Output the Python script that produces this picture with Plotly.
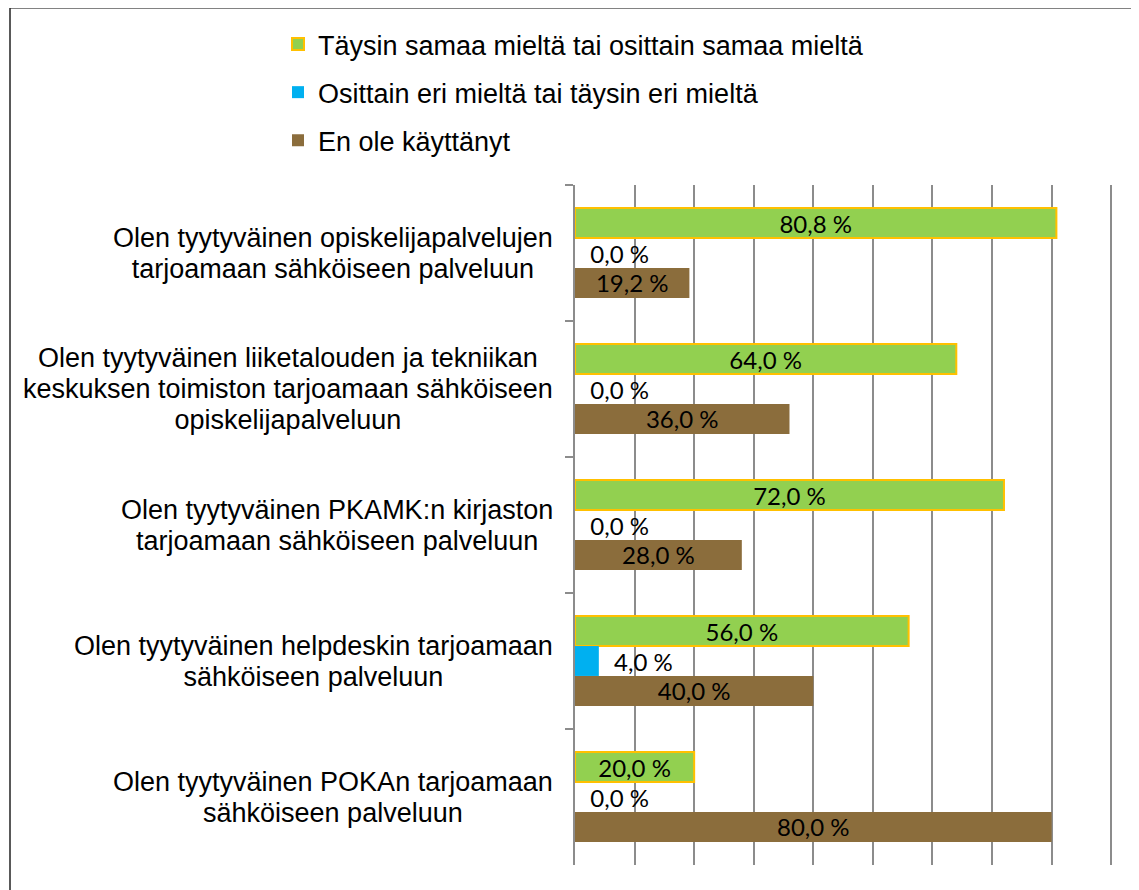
import plotly.graph_objects as go

categories = [
    "Olen tyytyväinen opiskelijapalvelujen<br>tarjoamaan sähköiseen palveluun",
    "Olen tyytyväinen liiketalouden ja tekniikan<br>keskuksen toimiston tarjoamaan sähköiseen<br>opiskelijapalveluun",
    "Olen tyytyväinen PKAMK:n kirjaston<br>tarjoamaan sähköiseen palveluun",
    "Olen tyytyväinen helpdeskin tarjoamaan<br>sähköiseen palveluun",
    "Olen tyytyväinen POKAn tarjoamaan<br>sähköiseen palveluun",
]
series_names = [
    "Täysin samaa mieltä tai osittain samaa mieltä",
    "Osittain eri mieltä tai täysin eri mieltä",
    "En ole käyttänyt",
]
agree = [80.8, 64.0, 72.0, 56.0, 20.0]
disagree = [0.0, 0.0, 0.0, 4.0, 0.0]
not_used = [19.2, 36.0, 28.0, 40.0, 80.0]

colors = ["#92D050", "#00B0F0", "#8B6D3C"]
line_colors = ["#FFC000", "#00B0F0", "#8B6D3C"]
line_widths = [2, 0, 0]

# page has an 8px body margin, so the figure is sized/offset accordingly
OFF = 8
W, H = 1139 - OFF, 890 - OFF
L, R, T, B = 575 - OFF, 26, 185 - OFF, 25
FONT = "Liberation Sans, Arial"
NB = "\u00a0\u00a0"

fig = go.Figure()
for i, (name, vals) in enumerate(zip(series_names, [agree, disagree, not_used])):
    pos = ["inside" if v >= 10 else "outside" for v in vals]
    txt = [(NB if p == "outside" else "") + f"{v:.1f} %".replace(".", ",") for v, p in zip(vals, pos)]
    fig.add_trace(go.Bar(
        y=categories, x=vals, orientation="h", name=name,
        marker=dict(color=colors[i], line=dict(color=line_colors[i], width=line_widths[i])),
        text=txt, textposition=pos, insidetextanchor="middle",
        textfont=dict(family="Lato", size=24, color="black"),
        insidetextfont=dict(family="Lato", size=24, color="black"),
        outsidetextfont=dict(family="Lato", size=24, color="black"),
        constraintext="none", cliponaxis=False,
        legendgroup=f"g{i}",
        hoverinfo="skip",
    ))

for c in categories:
    fig.add_annotation(
        x=0, y=c, xref="x", yref="y",
        text="<br>".join(f'<span style="font-size:27px">{ln}</span>' for ln in c.split("<br>")),
        showarrow=False,
        xanchor="right", yanchor="middle", align="center", xshift=-20,
        font=dict(family=FONT, size=24, color="black"),
    )

ptop = (H - B - (8 - OFF)) / (H - T - B)
pleft = ((10 - OFF) - L) / (W - L - R)
fig.add_shape(type="line", xref="paper", yref="paper", x0=pleft, x1=1.2, y0=ptop, y1=ptop,
              line=dict(color="#595959", width=1.5))
fig.add_shape(type="line", xref="paper", yref="paper", x0=pleft, x1=pleft, y0=-0.1, y1=ptop,
              line=dict(color="#222222", width=1.5))

fig.update_layout(
    width=W, height=H,
    margin=dict(l=L, r=R, t=T, b=B, autoexpand=False),
    paper_bgcolor="white", plot_bgcolor="white",
    barmode="group", bargap=0.34, bargroupgap=0,
    font=dict(family=FONT, size=27, color="black"),
    showlegend=True,
    legend=dict(
        orientation="v", xref="container", yref="container",
        x=270 / W, y=1 - 12 / H, xanchor="left", yanchor="top",
        font=dict(family=FONT, size=27, color="black"),
        tracegroupgap=10, traceorder="grouped", itemclick=False,
    ),
    xaxis=dict(range=[0, 90.3], dtick=10, showgrid=True, gridcolor="#8C8C8C", gridwidth=1.5,
               zeroline=False, showticklabels=False, showline=False, ticks="", fixedrange=True),
    yaxis=dict(type="category", autorange="reversed", showticklabels=False,
               ticks="outside", tickson="boundaries", ticklen=8, tickcolor="#8C8C8C", tickwidth=1.5,
               showline=True, linecolor="#8C8C8C", linewidth=1.5, showgrid=False, fixedrange=True),
)

fig.write_html("out.html")
